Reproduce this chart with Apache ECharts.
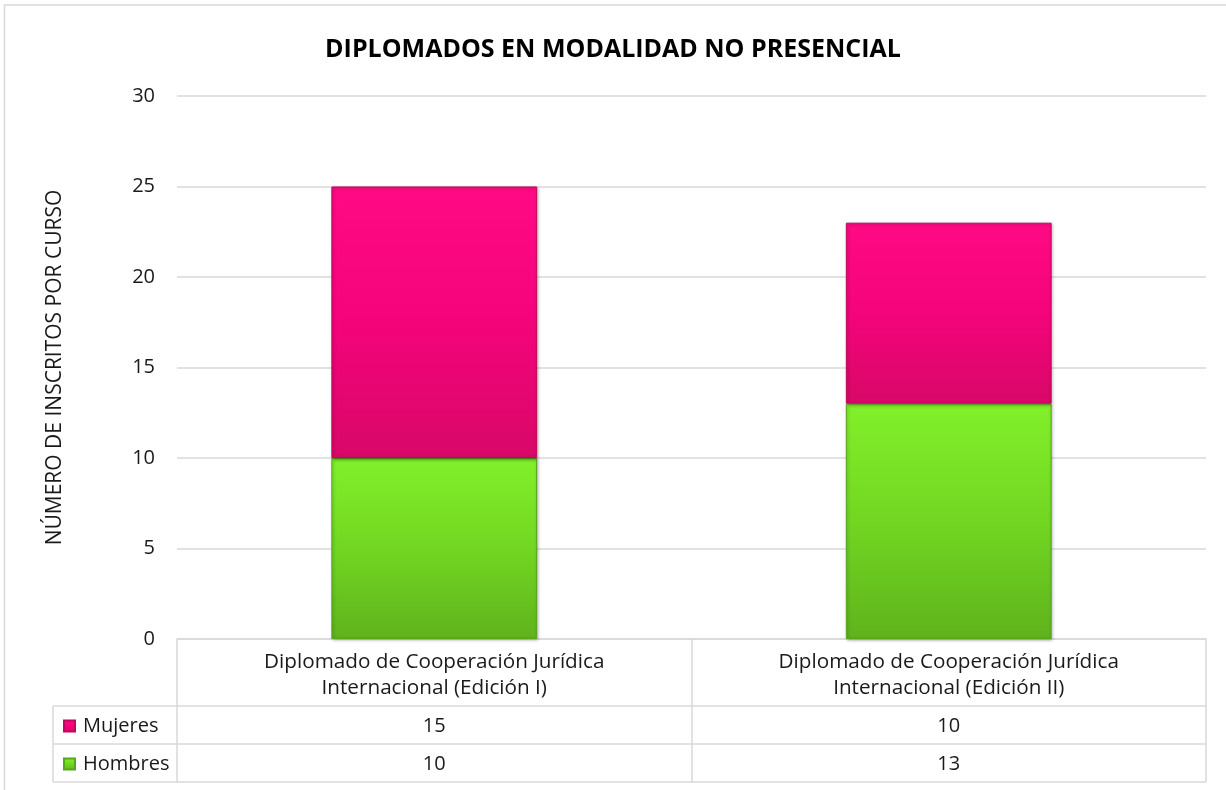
<!DOCTYPE html>
<html>
<head>
<meta charset="utf-8">
<script src="https://cdn.jsdelivr.net/npm/echarts@6/dist/echarts.min.js"></script>
<style>
  html, body { margin: 0; padding: 0; background: #fff; }
  #chart { width: 1226px; height: 790px; }
</style>
</head>
<body>
<div id="chart"></div>
<script>
const categories = [
  'Diplomado de Cooperación Jurídica\nInternacional (Edición I)',
  'Diplomado de Cooperación Jurídica\nInternacional (Edición II)'
];
const hombres = [10, 13];
const mujeres = [15, 10];
const seriesNames = ['Mujeres', 'Hombres'];

const FONT = "'Open Sans', 'Noto Sans', sans-serif";
const TEXT = '#1a1a1a';
const LINE = '#d9d9d9';

// plot area
const GRID = { left: 177, right: 20, top: 96, bottom: 151 };
const ROW = [706, 744, 782];

const pink = new echarts.graphic.LinearGradient(0, 0, 0, 1, [
  { offset: 0, color: '#ff0a84' },
  { offset: 0.5, color: '#f4047a' },
  { offset: 1, color: '#d80868' }
]);
const green = new echarts.graphic.LinearGradient(0, 0, 0, 1, [
  { offset: 0, color: '#82f02a' },
  { offset: 0.5, color: '#72d622' },
  { offset: 1, color: '#5fb31c' }
]);

const barStyle = (color, border) => ({
  color, borderColor: border, borderWidth: 1,
  shadowColor: 'rgba(0,0,0,0.3)', shadowBlur: 3, shadowOffsetX: 1, shadowOffsetY: 1
});

const tableAxis = (data, offset, show) => ({
  type: 'category', gridIndex: 0, position: 'bottom', offset, data,
  axisLine: { show: true, lineStyle: { color: LINE, width: 1.5 } },
  axisTick: { show: false },
  axisLabel: { show, color: TEXT, fontSize: 20, fontFamily: FONT, margin: 10, interval: 0 },
  splitLine: { show: false }
});

const chart = echarts.init(document.getElementById('chart'));
chart.setOption({
  animation: false,
  backgroundColor: '#fff',
  title: {
    text: 'DIPLOMADOS EN MODALIDAD NO PRESENCIAL',
    left: 'center', top: 32,
    textStyle: { color: '#000', fontSize: 25, fontWeight: 'bold', fontFamily: FONT }
  },
  legend: {
    orient: 'vertical', left: 63, top: 716, padding: 0,
    data: seriesNames, itemWidth: 11, itemHeight: 11, itemGap: 18,
    icon: 'rect',
    textStyle: { color: TEXT, fontSize: 20, fontFamily: FONT, lineHeight: 20, padding: [0, 0, 0, 3] }
  },
  grid: GRID,
  xAxis: [
    {
      type: 'category', data: categories,
      axisLine: { lineStyle: { color: LINE, width: 1.5 } },
      axisTick: { show: true, length: ROW[2] - 639, lineStyle: { color: LINE, width: 1.5 } },
      axisLabel: { color: TEXT, fontSize: 20.7, fontFamily: FONT, lineHeight: 26, margin: 10, interval: 0 }
    },
    tableAxis(mujeres.map(String), ROW[0] - 639, true),
    tableAxis(hombres.map(String), ROW[1] - 639, true),
    tableAxis(['', ''], ROW[2] - 639, false)
  ],
  yAxis: {
    type: 'value', min: 0, max: 30, interval: 5,
    name: 'NÚMERO DE INSCRITOS POR CURSO',
    nameLocation: 'middle', nameRotate: 90, nameGap: 111,
    nameTextStyle: { color: TEXT, fontSize: 21, fontFamily: FONT },
    axisLine: { show: false }, axisTick: { show: false },
    axisLabel: { color: TEXT, fontSize: 20, fontFamily: FONT, margin: 22 },
    splitLine: { lineStyle: { color: LINE, width: 1.5 } }
  },
  series: [
    {
      name: 'Hombres', type: 'bar', stack: 'total', barWidth: '40%',
      data: hombres, itemStyle: barStyle(green, '#58a61a')
    },
    {
      name: 'Mujeres', type: 'bar', stack: 'total', barWidth: '40%',
      data: mujeres, itemStyle: barStyle(pink, '#c4075e')
    }
  ],
  graphic: [
    // chart frame
    { type: 'rect', shape: { x: 4.5, y: 5, width: 1240, height: 820 }, style: { fill: 'none', stroke: LINE, lineWidth: 1.5 }, silent: true },
    // legend column of the data table
    { type: 'line', shape: { x1: 53, y1: ROW[0], x2: 177, y2: ROW[0] }, style: { stroke: LINE, lineWidth: 1.5 } },
    { type: 'line', shape: { x1: 53, y1: ROW[1], x2: 177, y2: ROW[1] }, style: { stroke: LINE, lineWidth: 1.5 } },
    { type: 'line', shape: { x1: 53, y1: ROW[2], x2: 177, y2: ROW[2] }, style: { stroke: LINE, lineWidth: 1.5 } },
    { type: 'line', shape: { x1: 53, y1: ROW[0], x2: 53, y2: ROW[2] }, style: { stroke: LINE, lineWidth: 1.5 } }
  ]
});
</script>
</body>
</html>
